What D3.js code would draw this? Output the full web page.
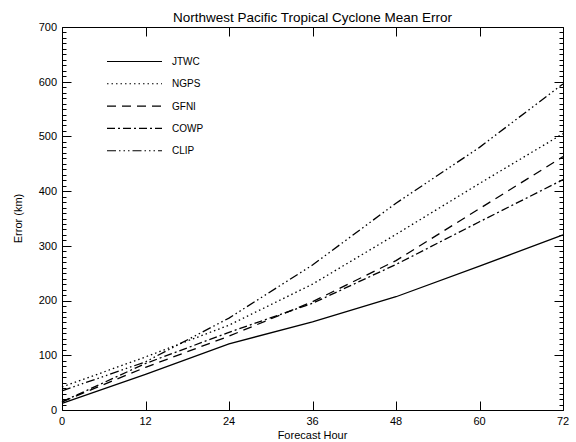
<!DOCTYPE html>
<html>
<head>
<meta charset="utf-8">
<script src="https://cdn.jsdelivr.net/npm/d3@7"></script>
<style>
  body { margin: 0; background: #fff; }
  text { font-family: "Liberation Sans", Arial, sans-serif; fill: #000; }
</style>
</head>
<body>
<script>
// forecast hours and mean errors (km)
const hours = [0, 12, 24, 36, 48, 60, 72];
const jtwc = [12, 65, 121, 161, 207, 263, 320];
const ngps = [42, 97, 155, 230, 321, 414, 505];
const gfni = [15, 78, 135, 198, 273, 368, 463];
const cowp = [15, 85, 142, 195, 266, 344, 421];
const clip = [35, 88, 168, 265, 378, 480, 596];
const xTicks = [0, 12, 24, 36, 48, 60, 72];
const yTicks = [0, 100, 200, 300, 400, 500, 600, 700];

const series = [
  { name: 'JTWC', values: jtwc, dash: null },
  { name: 'NGPS', values: ngps, dash: '1.5,3' },
  { name: 'GFNI', values: gfni, dash: '9,6' },
  { name: 'COWP', values: cowp, dash: '8,3,2,3' },
  { name: 'CLIP', values: clip, dash: '9,3,1.5,3,1.5,3,1.5,3' }
];

const width = 576;
const height = 442;
const margin = { left: 62, right: 563, top: 27, bottom: 410 };

const svg = d3.select('body')
  .append('svg')
  .attr('width', width)
  .attr('height', height);

const x = d3.scaleLinear().domain([0, 72]).range([margin.left, margin.right]);
const y = d3.scaleLinear().domain([0, 700]).range([margin.bottom, margin.top]);

// frame and all ticks in one path, ticks pointing inward
const minor = d3.range(0, 701, 10);
const p = d3.path();
const L = margin.left + 0.5, R = margin.right + 0.5;
const T = margin.top + 0.5, B = margin.bottom + 0.5;
p.rect(L, T, R - L, B - T);
minor.forEach((d) => {
  const len = d % 100 === 0 ? 9 : 4;
  const yy = Math.round(y(d)) + 0.5;
  p.moveTo(L, yy); p.lineTo(L + len, yy);
  p.moveTo(R, yy); p.lineTo(R - len, yy);
});
xTicks.forEach((d) => {
  const xx = Math.round(x(d)) + 0.5;
  p.moveTo(xx, B); p.lineTo(xx, B - 9);
  p.moveTo(xx, T); p.lineTo(xx, T + 9);
});
svg.append('path')
  .attr('d', p.toString())
  .attr('fill', 'none')
  .attr('stroke', '#000')
  .attr('stroke-width', 1);

// tick labels
svg.selectAll('.ylab')
  .data(yTicks)
  .enter()
  .append('text')
  .attr('class', 'ylab')
  .attr('x', margin.left - 5)
  .attr('y', (d) => y(d))
  .attr('dy', '0.35em')
  .attr('text-anchor', 'end')
  .attr('font-size', 11)
  .text((d) => d);

svg.selectAll('.xlab')
  .data(xTicks)
  .enter()
  .append('text')
  .attr('class', 'xlab')
  .attr('x', (d) => x(d))
  .attr('y', margin.bottom + 15)
  .attr('text-anchor', 'middle')
  .attr('font-size', 11)
  .text((d) => d);

// lines
const line = d3.line()
  .x((d, i) => x(hours[i]))
  .y((d) => y(d));

svg.selectAll('.series')
  .data(series)
  .enter()
  .append('path')
  .attr('class', 'series')
  .attr('d', (d) => line(d.values))
  .attr('fill', 'none')
  .attr('stroke', '#000')
  .attr('stroke-width', 1.3)
  .attr('stroke-dasharray', (d) => d.dash);

// legend
const legend = svg.selectAll('.legend')
  .data(series)
  .enter()
  .append('g')
  .attr('class', 'legend')
  .attr('transform', (d, i) => `translate(107,${61.5 + i * 22.3})`);

legend.append('line')
  .attr('x1', 0).attr('x2', 55)
  .attr('stroke', '#000')
  .attr('stroke-width', 1.1)
  .attr('stroke-dasharray', (d) => d.dash);

legend.append('text')
  .attr('x', 65)
  .attr('dy', '0.35em')
  .attr('font-size', 10)
  .text((d) => d.name);

// titles
svg.append('text')
  .attr('x', (margin.left + margin.right) / 2)
  .attr('y', 22)
  .attr('text-anchor', 'middle')
  .attr('font-size', 13.5)
  .text('Northwest Pacific Tropical Cyclone Mean Error');

svg.append('text')
  .attr('x', (margin.left + margin.right) / 2)
  .attr('y', 439)
  .attr('text-anchor', 'middle')
  .attr('font-size', 11)
  .text('Forecast Hour');

svg.append('text')
  .attr('transform', `translate(22,${(margin.top + margin.bottom) / 2}) rotate(-90)`)
  .attr('text-anchor', 'middle')
  .attr('font-size', 11)
  .text('Error (km)');
</script>
</body>
</html>
